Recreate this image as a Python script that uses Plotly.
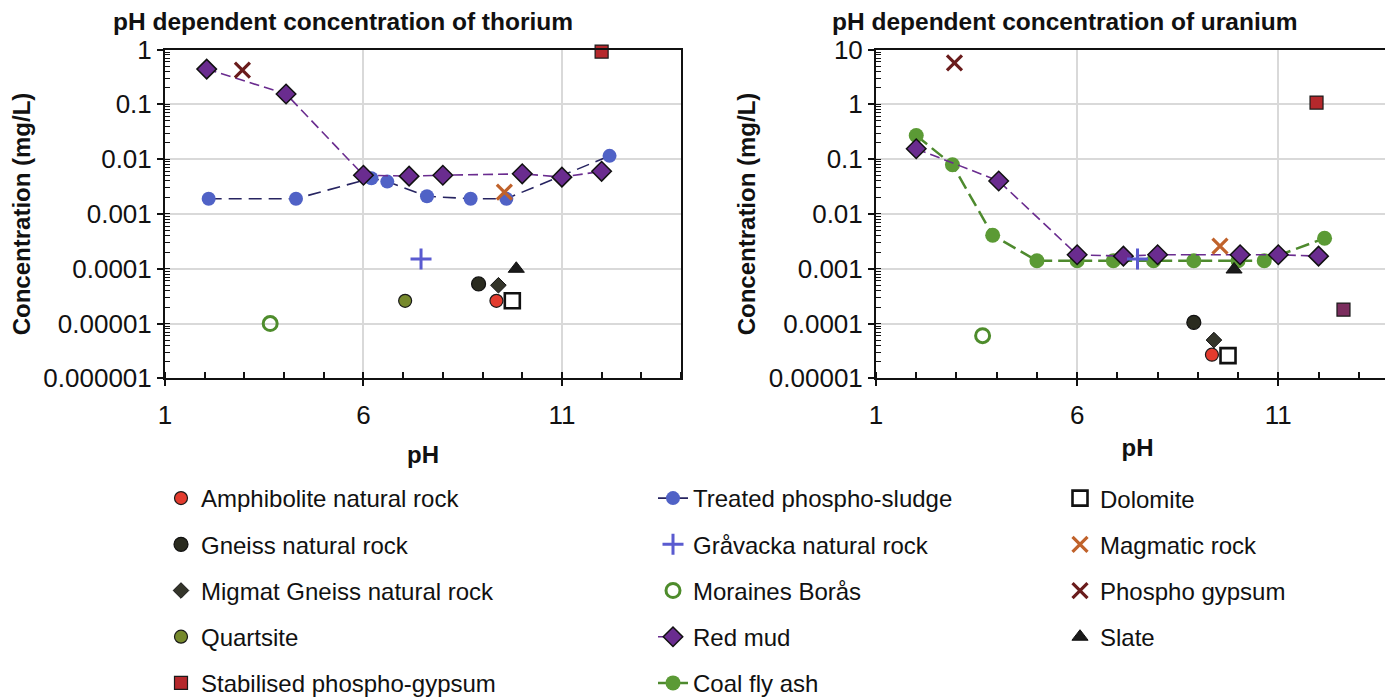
import plotly.graph_objects as go

W, H = 1393, 697

# ---------------- data: thorium (left) ----------------
th_sludge_ph = [2.1, 4.3, 6.2, 6.6, 7.6, 8.7, 9.6, 12.2]
th_sludge_c = [0.0019, 0.0019, 0.0045, 0.0039, 0.0021, 0.0019, 0.0019, 0.0115]
th_redmud_ph = [2.05, 4.05, 6.0, 7.15, 8.0, 10.0, 11.0, 12.0]
th_redmud_c = [0.44, 0.155, 0.0051, 0.0049, 0.0051, 0.0054, 0.0047, 0.006]
th_phosphogyp_ph = [2.95]
th_phosphogyp_c = [0.42]
th_magmatic_ph = [9.55]
th_magmatic_c = [0.0025]
th_stabilised_ph = [12.0]
th_stabilised_c = [0.92]
th_gravacka_ph = [7.45]
th_gravacka_c = [0.00015]
th_slate_ph = [9.85]
th_slate_c = [0.0001]
th_gneiss_ph = [8.9]
th_gneiss_c = [5.3e-5]
th_migmat_ph = [9.4]
th_migmat_c = [5.0e-5]
th_quartsite_ph = [7.05]
th_quartsite_c = [2.6e-5]
th_amphibolite_ph = [9.35]
th_amphibolite_c = [2.6e-5]
th_dolomite_ph = [9.75]
th_dolomite_c = [2.6e-5]
th_moraines_ph = [3.65]
th_moraines_c = [1.0e-5]

# ---------------- data: uranium (right) ----------------
u_coal_ph = [2.0, 2.9, 3.9, 5.0, 6.0, 6.9, 7.9, 8.9, 10.0, 10.65, 12.15]
u_coal_c = [0.27, 0.079, 0.0041, 0.0014, 0.0014, 0.0014, 0.0014, 0.0014, 0.0014, 0.0014, 0.0036]
u_redmud_ph = [2.0, 4.05, 6.0, 7.15, 8.0, 10.05, 11.0, 12.0]
u_redmud_c = [0.155, 0.04, 0.0018, 0.0017, 0.0018, 0.0018, 0.0018, 0.0017]
u_phosphogyp_ph = [2.95]
u_phosphogyp_c = [5.7]
u_stabilised_ph = [11.95]
u_stabilised_c = [1.08]
u_stabilised2_ph = [12.62]
u_stabilised2_c = [0.00018]
u_gravacka_ph = [7.5]
u_gravacka_c = [0.0015]
u_magmatic_ph = [9.55]
u_magmatic_c = [0.0026]
u_slate_ph = [9.9]
u_slate_c = [0.00097]
u_gneiss_ph = [8.9]
u_gneiss_c = [0.000105]
u_migmat_ph = [9.4]
u_migmat_c = [5.0e-5]
u_amphibolite_ph = [9.35]
u_amphibolite_c = [2.7e-5]
u_dolomite_ph = [9.75]
u_dolomite_c = [2.6e-5]
u_moraines_ph = [3.65]
u_moraines_c = [6.0e-5]

# ---------------- tick labels ----------------
x_tick_vals = [1, 6, 11]
x_tick_text = ["1", "6", "11"]
th_tick_vals = [1e-6, 1e-5, 1e-4, 1e-3, 1e-2, 1e-1, 1]
th_tick_text = ["0.000001", "0.00001", "0.0001", "0.001", "0.01", "0.1", "1"]
u_tick_vals = [1e-5, 1e-4, 1e-3, 1e-2, 1e-1, 1, 10]
u_tick_text = ["0.00001", "0.0001", "0.001", "0.01", "0.1", "1", "10"]

FONT = "Arial, Liberation Sans, sans-serif"

# ---------------- styles ----------------
S = {
    "Amphibolite natural rock": dict(mode="markers", marker=dict(symbol="circle", size=13, color="#e33b2e", line=dict(color="#1a1a1a", width=1.2))),
    "Gneiss natural rock": dict(mode="markers", marker=dict(symbol="circle", size=14, color="#2a2b1f", line=dict(color="#111111", width=1.2))),
    "Migmat Gneiss natural rock": dict(mode="markers", marker=dict(symbol="diamond", size=12, color="#34352a", line=dict(color="#111111", width=1))),
    "Quartsite": dict(mode="markers", marker=dict(symbol="circle", size=13, color="#76892c", line=dict(color="#1a1a1a", width=1.2))),
    "Stabilised phospho-gypsum": dict(mode="markers", marker=dict(symbol="square", size=13, color="#b5282c", line=dict(color="#1a1a1a", width=1.2))),
    "Treated phospho-sludge": dict(mode="lines+markers", marker=dict(symbol="circle", size=14, color="#5062c6", line=dict(width=0)),
                                   line=dict(color="#272461", width=1.6, dash="13px,7px")),
    "Gråvacka natural rock": dict(mode="markers", marker=dict(symbol="cross-thin", size=15, color="#5a5bd0", line=dict(color="#5a5bd0", width=3))),
    "Moraines Borås": dict(mode="markers", marker=dict(symbol="circle-open", size=14, color="#4e8c2c", line=dict(color="#4e8c2c", width=3))),
    "Red mud": dict(mode="lines+markers", marker=dict(symbol="diamond", size=15, color="#6a2c8f", line=dict(color="#111111", width=1.5)),
                    line=dict(color="#6a2c8f", width=1.6, dash="10px,5px")),
    "Coal fly ash": dict(mode="lines+markers", marker=dict(symbol="circle", size=15, color="#5b9a35", line=dict(width=0)),
                         line=dict(color="#4e8a2e", width=2.5, dash="14px,6px")),
    "Dolomite": dict(mode="markers", marker=dict(symbol="square", size=15, color="white", line=dict(color="#111111", width=2.6))),
    "Magmatic rock": dict(mode="markers", marker=dict(symbol="x-thin", size=15, color="#c0622b", line=dict(color="#c0622b", width=3.2))),
    "Phospho gypsum": dict(mode="markers", marker=dict(symbol="x-thin", size=15, color="#6a1c1c", line=dict(color="#6a1c1c", width=3.2))),
    "Slate": dict(mode="markers", marker=dict(symbol="triangle-up", size=14, color="#1a1a1a", line=dict(color="#111111", width=1))),
}

LEG = {
    "Amphibolite natural rock": "legend", "Gneiss natural rock": "legend",
    "Migmat Gneiss natural rock": "legend", "Quartsite": "legend",
    "Stabilised phospho-gypsum": "legend",
    "Treated phospho-sludge": "legend2", "Gråvacka natural rock": "legend2",
    "Moraines Borås": "legend2", "Red mud": "legend2", "Coal fly ash": "legend2",
    "Dolomite": "legend3", "Magmatic rock": "legend3", "Phospho gypsum": "legend3",
    "Slate": "legend3",
}

fig = go.Figure()
shown = set()


def add(name, x, y, side):
    st = S[name]
    show = name not in shown
    shown.add(name)
    fig.add_trace(go.Scatter(
        x=x, y=y, name=name, legendgroup=name, legend=LEG[name], showlegend=show,
        xaxis="x" if side == "L" else "x2", yaxis="y" if side == "L" else "y2",
        cliponaxis=False, **st))


# order inside each legend column follows the reference
add("Amphibolite natural rock", th_amphibolite_ph, th_amphibolite_c, "L")
add("Gneiss natural rock", th_gneiss_ph, th_gneiss_c, "L")
add("Migmat Gneiss natural rock", th_migmat_ph, th_migmat_c, "L")
add("Quartsite", th_quartsite_ph, th_quartsite_c, "L")
add("Stabilised phospho-gypsum", th_stabilised_ph, th_stabilised_c, "L")
add("Treated phospho-sludge", th_sludge_ph, th_sludge_c, "L")
add("Gråvacka natural rock", th_gravacka_ph, th_gravacka_c, "L")
add("Moraines Borås", th_moraines_ph, th_moraines_c, "L")
add("Red mud", th_redmud_ph, th_redmud_c, "L")
add("Dolomite", th_dolomite_ph, th_dolomite_c, "L")
add("Magmatic rock", th_magmatic_ph, th_magmatic_c, "L")
add("Phospho gypsum", th_phosphogyp_ph, th_phosphogyp_c, "L")
add("Slate", th_slate_ph, th_slate_c, "L")

add("Coal fly ash", u_coal_ph, u_coal_c, "R")
add("Red mud", u_redmud_ph, u_redmud_c, "R")
add("Amphibolite natural rock", u_amphibolite_ph, u_amphibolite_c, "R")
add("Gneiss natural rock", u_gneiss_ph, u_gneiss_c, "R")
add("Migmat Gneiss natural rock", u_migmat_ph, u_migmat_c, "R")
add("Stabilised phospho-gypsum", u_stabilised_ph, u_stabilised_c, "R")
add("Gråvacka natural rock", u_gravacka_ph, u_gravacka_c, "R")
add("Moraines Borås", u_moraines_ph, u_moraines_c, "R")
add("Dolomite", u_dolomite_ph, u_dolomite_c, "R")
add("Magmatic rock", u_magmatic_ph, u_magmatic_c, "R")
add("Phospho gypsum", u_phosphogyp_ph, u_phosphogyp_c, "R")
add("Slate", u_slate_ph, u_slate_c, "R")
# second stabilised sample (purple square, no legend entry)
fig.add_trace(go.Scatter(x=u_stabilised2_ph, y=u_stabilised2_c, mode="markers", showlegend=False,
                         xaxis="x2", yaxis="y2", cliponaxis=False,
                         marker=dict(symbol="square", size=13, color="#7b2d5e", line=dict(color="#1a1a1a", width=1.2))))


def px(v):
    return v / W


def py(v):
    return 1 - v / H


tickfont = dict(family=FONT, size=26, color="#111111")
titlefont = dict(family=FONT, size=24, color="#111111", weight="bold")

xa = dict(type="linear", range=[1, 14], tickmode="array", tickvals=x_tick_vals, ticktext=x_tick_text,
          showline=True, linecolor="#111111", linewidth=2, mirror=True,
          ticks="outside", ticklen=6, tickwidth=2, tickcolor="#111111", ticklabelstandoff=6,
          minor=dict(ticks="inside", ticklen=6, tickwidth=1.5, tickcolor="#111111", dtick=1, tick0=1, showgrid=False),
          showgrid=True, gridcolor="#d9d9d9", gridwidth=1.5, zeroline=False,
          tickfont=tickfont, automargin=False)
ya = dict(type="log", tickmode="array",
          showline=True, linecolor="#111111", linewidth=2, mirror=True,
          ticks="outside", ticklen=6, tickwidth=2, tickcolor="#111111",
          minor=dict(ticks="inside", ticklen=5, tickwidth=1, tickcolor="#111111", dtick="D1", showgrid=False),
          showgrid=True, gridcolor="#d9d9d9", gridwidth=1.5, zeroline=False,
          tickfont=tickfont, automargin=False,
          title=dict(text="Concentration (mg/L)", font=titlefont, standoff=6))

leg_common = dict(xanchor="left", yanchor="top", orientation="v",
                  font=dict(family=FONT, size=24, color="#111111"), tracegroupgap=12,
                  bgcolor="rgba(0,0,0,0)")

fig.update_layout(
    template="none",
    width=W, height=H,
    margin=dict(l=0, r=0, t=0, b=0),
    paper_bgcolor="white", plot_bgcolor="white",
    font=dict(family=FONT, color="#111111"),
    xaxis=dict(xa, domain=[px(157), px(673)], anchor="y",
               title=dict(text="pH", font=titlefont, standoff=18)),
    yaxis=dict(ya, domain=[py(383), py(43)], range=[-6, 0], tickvals=th_tick_vals, ticktext=th_tick_text, anchor="x"),
    xaxis2=dict(xa, domain=[px(868), px(1391)], anchor="y2",
                title=dict(text="pH", font=titlefont, standoff=11)),
    yaxis2=dict(ya, domain=[py(383), py(43)], range=[-5, 1], tickvals=u_tick_vals, ticktext=u_tick_text, anchor="x2"),
    legend=dict(leg_common, x=px(153), y=py(484)),
    legend2=dict(leg_common, x=px(645), y=py(484)),
    legend3=dict(leg_common, x=px(1052), y=py(484)),
    annotations=[
        dict(text="<b>pH dependent concentration of thorium</b>", x=px(335), y=py(14), xref="paper", yref="paper",
             xanchor="center", yanchor="middle", showarrow=False, font=dict(family=FONT, size=24.5, color="#111111")),
        dict(text="<b>pH dependent concentration of uranium</b>", x=px(1057), y=py(14), xref="paper", yref="paper",
             xanchor="center", yanchor="middle", showarrow=False, font=dict(family=FONT, size=24.5, color="#111111")),
    ],
)

fig.write_html("out.html")
